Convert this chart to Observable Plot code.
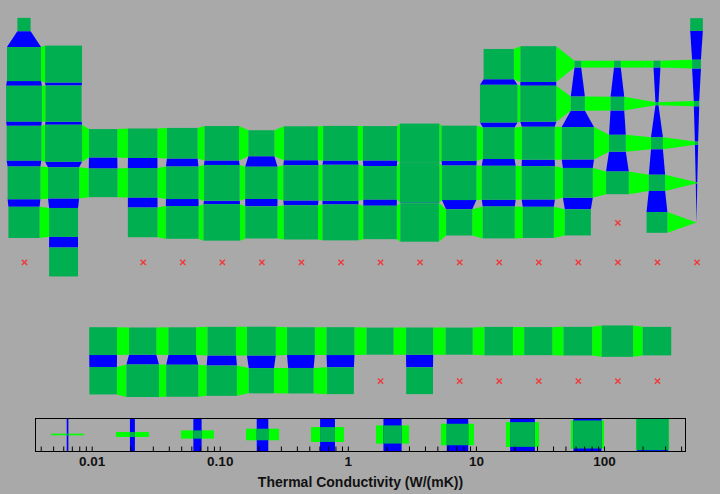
<!DOCTYPE html>
<html>
<head>
<meta charset="utf-8">
<script src="https://cdn.jsdelivr.net/npm/d3@7"></script>
<script src="https://cdn.jsdelivr.net/npm/@observablehq/plot@0.6"></script>
<style>
html, body { margin: 0; padding: 0; background: #a9a9a9; overflow: hidden; }
svg { display: block; }
</style>
</head>
<body>
<div id="chart"></div>
<script>
// ---- data: periodic table of thermal conductivity (W/(m K)); null = no data ----
const symbols = [
  "H","He",
  "Li","Be","B","C","N","O","F","Ne",
  "Na","Mg","Al","Si","P","S","Cl","Ar",
  "K","Ca","Sc","Ti","V","Cr","Mn","Fe","Co","Ni","Cu","Zn","Ga","Ge","As","Se","Br","Kr",
  "Rb","Sr","Y","Zr","Nb","Mo","Tc","Ru","Rh","Pd","Ag","Cd","In","Sn","Sb","Te","I","Xe",
  "Cs","Ba","Hf","Ta","W","Re","Os","Ir","Pt","Au","Hg","Tl","Pb","Bi","Po","At","Rn",
  "Fr","Ra","Rf","Db","Sg","Bh","Hs","Mt","Ds","Rg","Cn","Nh","Fl","Mc","Lv","Ts","Og",
  "La","Ce","Pr","Nd","Pm","Sm","Eu","Gd","Tb","Dy","Ho","Er","Tm","Yb","Lu",
  "Ac","Th","Pa","U","Np","Pu","Am","Cm","Bk","Cf","Es","Fm","Md","No","Lr"
];
const groups = [
  1,18,
  1,2,13,14,15,16,17,18,
  1,2,13,14,15,16,17,18,
  1,2,3,4,5,6,7,8,9,10,11,12,13,14,15,16,17,18,
  1,2,3,4,5,6,7,8,9,10,11,12,13,14,15,16,17,18,
  1,2,4,5,6,7,8,9,10,11,12,13,14,15,16,17,18,
  1,2,4,5,6,7,8,9,10,11,12,13,14,15,16,17,18,
  3,4,5,6,7,8,9,10,11,12,13,14,15,16,17,
  3,4,5,6,7,8,9,10,11,12,13,14,15,16,17
];
const rows = [
  1,1,
  2,2,2,2,2,2,2,2,
  3,3,3,3,3,3,3,3,
  4,4,4,4,4,4,4,4,4,4,4,4,4,4,4,4,4,4,
  5,5,5,5,5,5,5,5,5,5,5,5,5,5,5,5,5,5,
  6,6,6,6,6,6,6,6,6,6,6,6,6,6,6,6,6,
  7,7,7,7,7,7,7,7,7,7,7,7,7,7,7,7,7,
  9,9,9,9,9,9,9,9,9,9,9,9,9,9,9,
  10,10,10,10,10,10,10,10,10,10,10,10,10,10,10
];
const conductivity = [
  0.1805,0.1513,
  84.8,200,27.4,140,0.02583,0.02658,0.0277,0.0491,
  142,156,237,149,0.236,0.205,0.0089,0.01772,
  102.5,201,15.8,21.9,30.7,93.9,7.81,80.4,100,90.9,401,116,40.6,60.2,50.2,0.519,0.122,0.00943,
  58.2,35.4,17.2,22.6,53.7,138,50.6,117,150,71.8,429,96.6,81.8,66.8,24.4,3.0,0.449,0.00565,
  35.9,18.4,23.0,57.5,173,48.0,87.6,147,71.6,318,8.30,46.1,35.3,7.97,null,1.7,0.00361,
  null,18.6,null,null,null,null,null,null,null,null,null,null,null,null,null,null,null,
  13.4,11.3,12.5,16.5,17.9,13.3,13.9,10.6,11.1,10.7,16.2,14.5,16.9,38.5,16.4,
  12,54.0,47,27.5,6.3,6.74,10,null,10,null,null,null,null,null,null
];
// legend sample values and axis labels
const legendValues = [0.00648, 0.0208, 0.0670, 0.2157, 0.694, 2.233, 7.18, 23.1, 74.3, 239.2];
const tickValues = [0.01, 0.1, 1, 10, 100];
const tickLabels = ["0.01", "0.10", "1", "10", "100"];
const axisTitle = "Thermal Conductivity (W/(mK))";

// ---- colours ----
const SQUARE = "#00b050", HLINK = "#00ff00", VLINK = "#0000ff", MISSING = "#f03a3a";

const elements = symbols.map((s, i) => ({s, c: groups[i], r: rows[i], k: conductivity[i]}));
const present = elements.filter(d => d.k != null);
const missing = elements.filter(d => d.k == null);
const kMin = d3.min(present, d => d.k), kMax = d3.max(present, d => d.k);
const norm = d3.scaleLog().domain([kMin, kMax]).range([0, 1]);
const half = d => norm(d.k) / 2;   // half side in grid cells

const pos = new Map(present.map(d => [d.c + "," + d.r, d]));
const hPts = [], vPts = [];
present.forEach(a => {
  const b = pos.get((a.c + 1) + "," + a.r);
  if (b) {
    const id = a.s + "-" + b.s;
    hPts.push({id, x: a.c + half(a), y1: a.r - half(a), y2: a.r + half(a)});
    hPts.push({id, x: b.c - half(b), y1: b.r - half(b), y2: b.r + half(b)});
  }
  const e = pos.get(a.c + "," + (a.r + 1));
  if (e) {
    const id = a.s + "|" + e.s;
    vPts.push({id, y: a.r + half(a), x1: a.c - half(a), x2: a.c + half(a)});
    vPts.push({id, y: e.r - half(e), x1: e.c - half(e), x2: e.c + half(e)});
  }
});

const main = Plot.plot({
  width: 720, height: 405,
  marginLeft: 4.22, marginRight: 3.7, marginTop: 4.71, marginBottom: 4.5,
  x: {domain: [0.5, 18.5], axis: null},
  y: {domain: [0.5, 10.5], reverse: true, axis: null},
  style: {background: "transparent"},
  marks: [
    Plot.areaY(hPts, {x: "x", y1: "y1", y2: "y2", z: "id", fill: HLINK}),
    Plot.areaX(vPts, {y: "y", x1: "x1", x2: "x2", z: "id", fill: VLINK}),
    Plot.rect(present, {
      x1: d => d.c - half(d), x2: d => d.c + half(d),
      y1: d => d.r - half(d), y2: d => d.r + half(d),
      fill: SQUARE
    }),
    Plot.dot(missing, {x: "c", y: "r", symbol: "times", r: 2.5, stroke: MISSING, strokeWidth: 1.4})
  ]
});

// ---- legend ----
const LW = 720, LML = 35, LMR = 35, LMT = 13, LMB = 43;
const boxH = 89 - LMT - LMB;                       // legend cell size in px
const pxPerDecade = (LW - LML - LMR) / (Math.log10(kMax) - Math.log10(kMin));
const span = (v, px) => [v / Math.pow(10, px / 2 / pxPerDecade), v * Math.pow(10, px / 2 / pxPerDecade)];
const items = legendValues.map(v => {
  const n = norm(v);
  return {v, n, cell: span(v, boxH), side: span(v, n * boxH)};
});
const minorTicks = d3.scaleLog().domain([kMin, kMax]).ticks();
const labelOf = new Map(tickValues.map((t, i) => [t, tickLabels[i]]));

const legend = Plot.plot({
  width: LW, height: 89,
  marginLeft: LML, marginRight: LMR, marginTop: LMT, marginBottom: LMB,
  x: {type: "log", domain: [kMin, kMax]},
  y: {domain: [0, 1], axis: null},
  style: {background: "transparent", fontFamily: "'Liberation Sans', Arial, sans-serif", color: "#111"},
  marks: [
    Plot.rect(items, {x1: d => d.cell[0], x2: d => d.cell[1], y1: d => 0.5 - d.n / 2, y2: d => 0.5 + d.n / 2, fill: HLINK}),
    Plot.rect(items, {x1: d => d.side[0], x2: d => d.side[1], y1: 0, y2: 1, fill: VLINK}),
    Plot.rect(items, {x1: d => d.side[0], x2: d => d.side[1], y1: d => 0.5 - d.n / 2, y2: d => 0.5 + d.n / 2, fill: SQUARE}),
    Plot.tickX(minorTicks, {x: d => d, insetTop: boxH - 4.5, stroke: "#000"}),
    Plot.frame({stroke: "#000"}),
    Plot.axisX(tickValues, {tickSize: 0, tickPadding: 5, tickFormat: d => labelOf.get(d), fontSize: 13.5, fontWeight: "bold", fill: "#111", label: null}),
    Plot.text([axisTitle], {text: d => d, frameAnchor: "bottom", lineAnchor: "middle", dy: 31, fontSize: 14, fontWeight: "bold", fill: "#111"})
  ]
});

const root = document.getElementById("chart");
root.appendChild(main);
root.appendChild(legend);
</script>
</body>
</html>
